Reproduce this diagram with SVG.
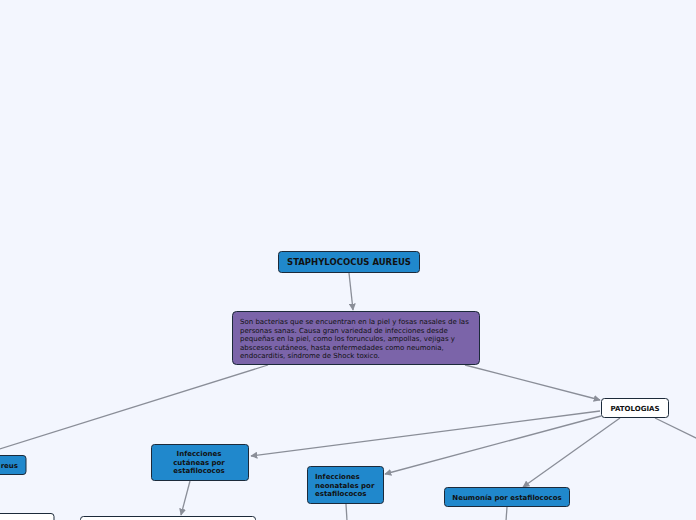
<svg xmlns="http://www.w3.org/2000/svg" width="696" height="520" viewBox="0 0 696 520">
<defs>
<marker id="ah" viewBox="0 0 10 10" refX="9" refY="5" markerWidth="7" markerHeight="7" markerUnits="userSpaceOnUse" orient="auto">
<path d="M0,0 L10,5 L0,10 z" fill="#8a8e98"/>
</marker>
<style>
.c{stroke:#8a8e98;stroke-width:1.3;fill:none}
.a{marker-end:url(#ah)}
.b{fill:#2088cc;stroke:#1c2a3a;stroke-width:1}
.w{fill:#ffffff;stroke:#1c2a3a;stroke-width:1}
.p{fill:#7b64a9;stroke:#1c2a3a;stroke-width:1}
.t{font-family:"DejaVu Sans",Verdana,sans-serif;font-weight:bold;fill:#111;font-size:7px}
.h{font-size:8.5px}
.d{font-family:"DejaVu Sans",Verdana,sans-serif;fill:#111;font-size:7px}
</style>
</defs>
<rect width="696" height="520" fill="#f3f6fe"/>
<g id="connectors">
<line class="c a" x1="349" y1="273" x2="353" y2="310"/>
<line class="c a" x1="465" y1="365" x2="600" y2="400"/>
<line class="c" x1="268" y1="365" x2="-10" y2="452"/>
<line class="c a" x1="600" y1="411" x2="251" y2="456"/>
<line class="c a" x1="601" y1="416" x2="385" y2="474"/>
<line class="c a" x1="620" y1="418" x2="523" y2="487"/>
<line class="c" x1="655" y1="418" x2="700" y2="440"/>
<line class="c a" x1="190" y1="481" x2="181" y2="515"/>
<line class="c" x1="346" y1="504" x2="347" y2="521"/>
<line class="c" x1="507" y1="507" x2="506" y2="521"/>
</g>
<g id="n-staph">
<rect class="b" x="278.5" y="251.5" width="141" height="21" rx="3"/>
<text class="t h" x="349" y="265" text-anchor="middle">STAPHYLOCOCUS AUREUS</text>
</g>
<g id="n-desc">
<rect class="p" x="232.5" y="311.5" width="247" height="53" rx="4"/>
<text class="d" x="240" y="324">Son bacterias que se encuentran en la piel y fosas nasales de las</text>
<text class="d" x="240" y="332.5">personas sanas. Causa gran variedad de infecciones desde</text>
<text class="d" x="240" y="341">pequeñas en la piel, como los forunculos, ampollas, vejigas y</text>
<text class="d" x="240" y="349.5">abscesos cutáneos, hasta enfermedades como neumonia,</text>
<text class="d" x="240" y="358">endocarditis, síndrome de Shock toxico.</text>
</g>
<g id="n-patologias">
<rect class="w" x="601.5" y="398.5" width="67" height="19" rx="3"/>
<text class="t" x="635" y="410.5" text-anchor="middle">PATOLOGIAS</text>
</g>
<g id="n-aureus">
<rect class="b" x="-40" y="455.5" width="66" height="19" rx="3"/>
<text class="t" x="18" y="467.5" text-anchor="end">reus</text>
</g>
<g id="n-cutaneas">
<rect class="b" x="151.5" y="444.5" width="97" height="36" rx="3"/>
<text class="t" x="199" y="456" text-anchor="middle">Infecciones</text>
<text class="t" x="199" y="464.5" text-anchor="middle">cutáneas por</text>
<text class="t" x="199" y="473" text-anchor="middle">estafilococos</text>
</g>
<g id="n-neonatales">
<rect class="b" x="307.5" y="466.5" width="76" height="37" rx="3"/>
<text class="t" x="315" y="479">Infecciones</text>
<text class="t" x="315" y="487.5">neonatales por</text>
<text class="t" x="315" y="496">estafilococos</text>
</g>
<g id="n-neumonia">
<rect class="b" x="444.5" y="487.5" width="125" height="19" rx="3"/>
<text class="t" x="507" y="499.5" text-anchor="middle">Neumonía por estafilococos</text>
</g>
<g id="n-bottom-left">
<rect class="w" x="-40" y="513.5" width="94" height="30" rx="3"/>
</g>
<g id="n-bottom">
<rect class="w" x="80.5" y="516.5" width="175" height="30" rx="3"/>
</g>
</svg>
